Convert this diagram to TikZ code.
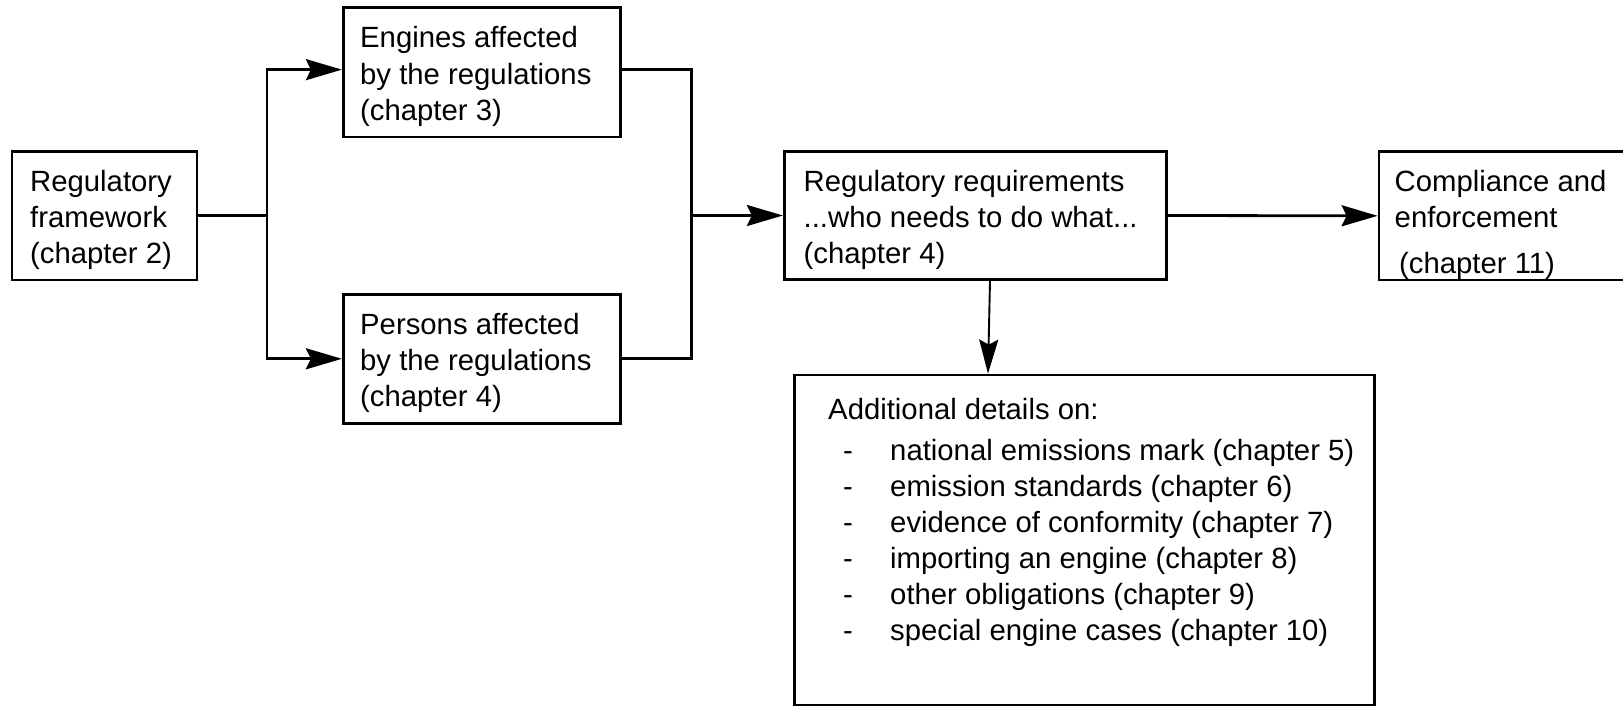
\documentclass[tikz,border=0pt]{standalone}
\usepackage{fontspec}
\setmainfont{Liberation Sans}
\usetikzlibrary{arrows.meta}
\begin{document}
\begin{tikzpicture}[x=1pt,y=-1pt,
  box/.style={draw, line width=2.8pt, inner sep=0pt},
  txt/.style={anchor=base west, inner sep=0pt, font=\fontsize{29.3}{36}\selectfont},
  conn/.style={line width=2.8pt},
  arr/.style={line width=2.8pt, -{Stealth[length=36pt,width=21pt,inset=5pt]}},
  arrthin/.style={line width=1.9pt, -{Stealth[length=34pt,width=19pt,inset=5pt]}}]
\useasboundingbox (0,0) rectangle (1623,706);
\clip (0,0) rectangle (1623,706);

% boxes
\node[box, minimum width=185pt, minimum height=128.3pt] (rf) at (104.5,215.85) {};
\node[box, minimum width=277.4pt, minimum height=129.7pt] (eng) at (482,72.15) {};
\node[box, minimum width=277.4pt, minimum height=129pt] (per) at (482,358.8) {};
\node[box, minimum width=382.4pt, minimum height=127.6pt] (req) at (975.5,215.5) {};
\node[box, minimum width=580.3pt, minimum height=330pt] (add) at (1084.5,540) {};

% texts
\node[txt] (rfa) at (30,191) {Regulatory};
\node[txt] (rfb) at (30,227.5) {framework};
\node[txt] (rfc) at (30,263) {(chapter 2)};

\node[txt] (enga) at (360,48) {Engines affected};
\node[txt] (engb) at (360,84.5) {by the regulations};
\node[txt] (engc) at (360,121) {(chapter 3)};

\node[txt] (pera) at (360,334) {Persons affected};
\node[txt] (perb) at (360,370.5) {by the regulations};
\node[txt] (perc) at (360,406.5) {(chapter 4)};

\node[txt] (reqa) at (803.5,191) {Regulatory requirements};
\node[txt] (reqb) at (803.5,227.5) {...who needs to do what...};
\node[txt] (reqc) at (803.5,263) {(chapter 4)};

\begin{scope}
\clip (1379,151.7) rectangle (1650,280);
\node[txt] (compa) at (1394.5,191) {Compliance and};
\node[txt] (compb) at (1394.5,227.5) {enforcement};
\node[txt] (compc) at (1399,273.5) {(chapter 11)};
\end{scope}
\node[box, minimum width=271pt, minimum height=128.3pt] (comp) at (1514.5,215.85) {};

\node[txt] (addh) at (828,419.5) {Additional details on:};
\foreach \yy/\tt [count=\i] in {460/national emissions mark (chapter 5),
  496/emission standards (chapter 6),
  532/evidence of conformity (chapter 7),
  568/importing an engine (chapter 8),
  604/other obligations (chapter 9),
  640/special engine cases (chapter 10)}{
  \node[txt] (dash\i) at (843,\yy) {-};
  \node[txt] (item\i) at (890,\yy) {\tt};
}

% connectors
\coordinate (j1) at (267,215.85);
\coordinate (j2) at (691.5,215.5);
\draw[conn] (rf.east) -- (j1);
\draw[arr] (j1) |- ([yshift=2.5pt]eng.west);
\draw[arr] (j1) |- (per.west);
\draw[conn] ([yshift=2.5pt]eng.east) -| (j2) |- (per.east);
\draw[arr] (j2) -- (req.west);
\draw[arr] (req.east) -- (comp.west);
\draw[arrthin] ([xshift=14.5pt]req.south) -- ([xshift=-96.5pt]add.north);
\end{tikzpicture}
\end{document}
